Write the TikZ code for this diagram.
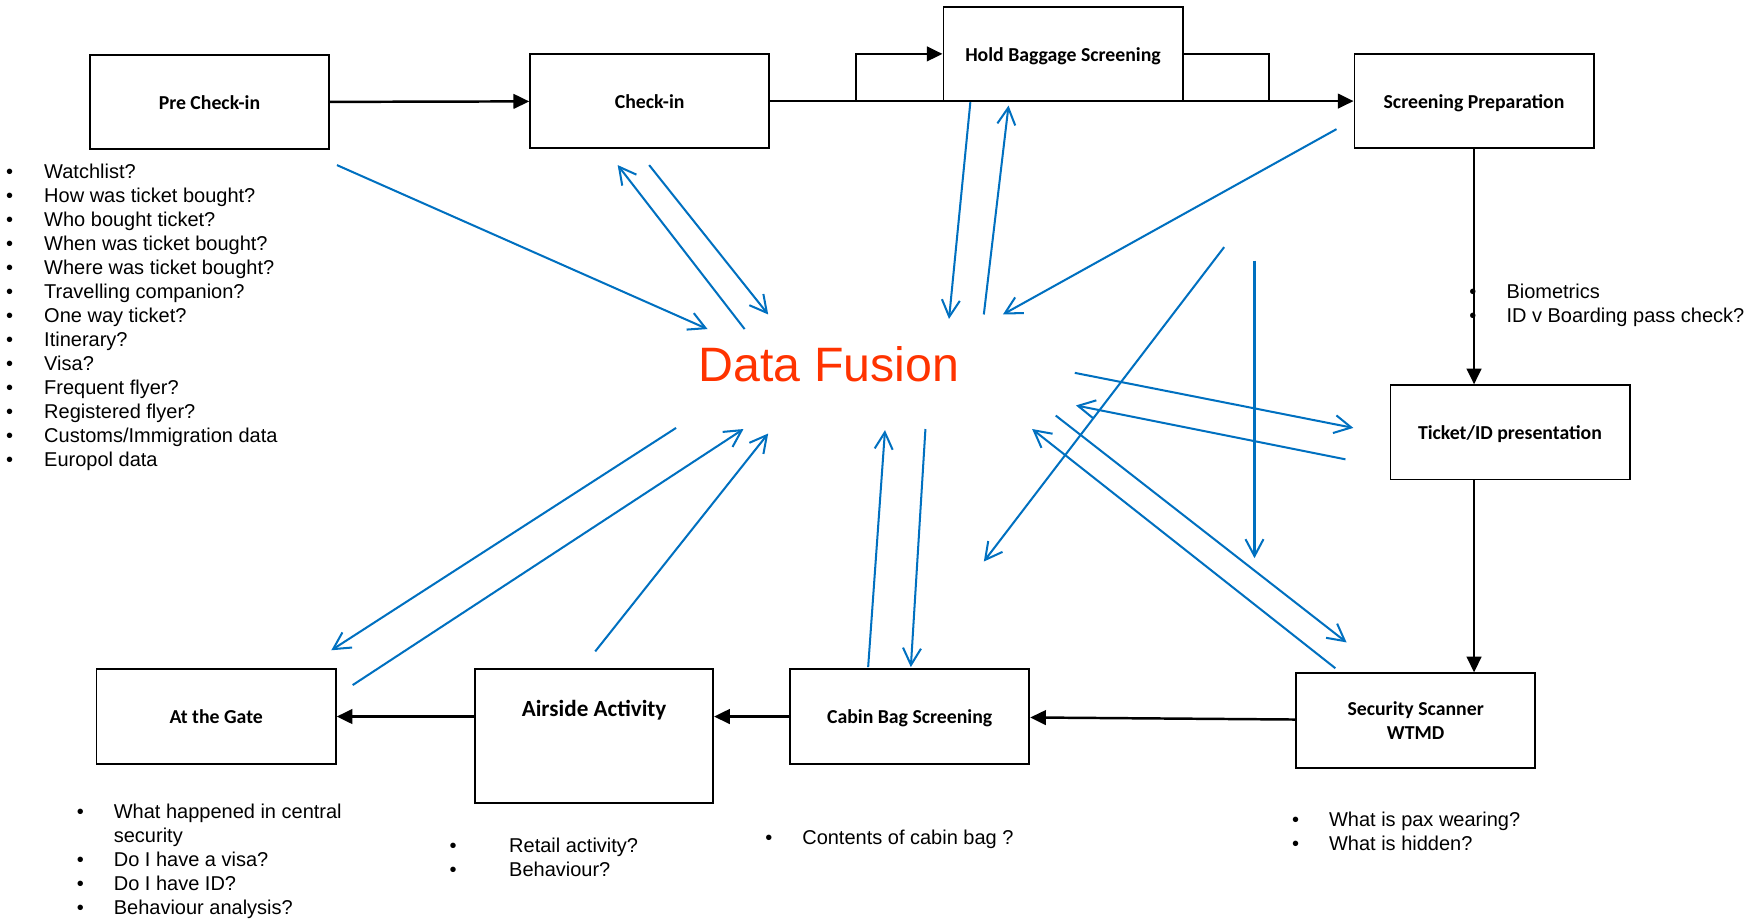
\documentclass[tikz,border=0pt]{standalone}
\usepackage{fontspec}
\setmainfont{Liberation Sans}
\newfontfamily\boxfont{Carlito}
\usetikzlibrary{arrows.meta,calc}
\definecolor{fusionred}{RGB}{255,51,0}
\definecolor{linkblue}{RGB}{0,112,192}
\newcommand{\bul}[1][16.5pt]{\makebox[#1][l]{\textbullet}}

\begin{document}
\begin{tikzpicture}
  [x=0.5pt,y=-0.5pt,
   boxN/.style={draw,line width=0.8pt,minimum width=106.5pt,minimum height=42pt,
                inner sep=1pt,align=center,
                font=\boxfont\bfseries\fontsize{8.8}{10.5}\selectfont},
   oneN/.style={boxN,text height=6.6pt,text depth=0pt},
   listN/.style={anchor=north west,inner sep=0pt,align=left,
                 font=\fontsize{8.9}{10.7}\selectfont},
   flow/.style={line width=1.1pt,-{Triangle[length=7pt,width=6.5pt]}},
   data/.style={linkblue,line width=0.9pt,-{Straight Barb[length=7.5pt,width=8pt]}}]

  \useasboundingbox (0,0) rectangle (1568,819);

  % process boxes
  \node at (186.5,91)   [oneN] (pre)     {Pre Check-in};
  \node at (578.5,90)   [oneN] (checkin) {Check-in};
  \node at (946.5,48)   [oneN] (hold)    {Hold Baggage Screening};
  \node at (1312.5,90)  [oneN] (prep)    {Screening Preparation};
  \node at (1344.5,385) [oneN] (ticket)  {Ticket/ID presentation};
  \node at (1260.5,641.5) [boxN] (scanner) {Security Scanner\\WTMD};
  \node at (810,638)    [oneN] (cabin)   {Cabin Bag Screening};
  \node at (529,655.5)  [boxN,minimum width=106pt,minimum height=59.5pt,
                         text height=7.5pt,text depth=25.2pt,
                         font=\boxfont\bfseries\fontsize{10.3}{12}\selectfont] (airside) {Airside Activity};
  \node at (192.5,638)  [oneN] (gate)    {At the Gate};

  \node at (738,324) [text=fusionred,font=\fontsize{21.5}{24}\selectfont] (fusion) {Data Fusion};

  % passenger flow
  \coordinate (hbsIn)  at (762,90);
  \coordinate (hbsOut) at (1130,90);
  \draw [flow] (pre) -- (checkin);
  \draw [flow] (checkin) -- (prep);
  \draw [flow] (hbsIn) |- (hold.west);
  \draw [line width=1.1pt] (hold.east) -| (hbsOut);
  \draw [flow] (prep.south) -- (prep.south |- ticket.north);
  \draw [flow] (ticket.south -| prep.south) -- (scanner.north -| prep.south);
  \draw [flow] (scanner) -- (cabin);
  \draw [flow] (cabin) -- (cabin.west -| airside.east);
  \draw [flow] (gate.east -| airside.west) -- (gate);

  % data links to and from the fusion centre
  \coordinate (preA)  at (300,147);  \coordinate (preB)  at (630,293);
  \coordinate (chkA)  at (663,293);  \coordinate (chkB)  at (550,147);
  \coordinate (chkC)  at (578,147);  \coordinate (chkD)  at (684,280);
  \coordinate (hbsA)  at (864,91);   \coordinate (hbsB)  at (845,284);
  \coordinate (hbsC)  at (876,280);  \coordinate (hbsD)  at (898,94);
  \coordinate (prepA) at (1190,115); \coordinate (prepB) at (893,280);
  \coordinate (tktA)  at (957,332);  \coordinate (tktB)  at (1205,381);
  \coordinate (tktC)  at (1198,409); \coordinate (tktD)  at (958,361);
  \coordinate (midA)  at (1090,220); \coordinate (midB)  at (876,500);
  \coordinate (midC)  at (1117,232); \coordinate (midD)  at (1117,497);
  \coordinate (scnA)  at (940,370);  \coordinate (scnB)  at (1199,572);
  \coordinate (scnC)  at (1189,595); \coordinate (scnD)  at (919,382);
  \coordinate (cabA)  at (773,594);  \coordinate (cabB)  at (788,383);
  \coordinate (cabC)  at (824,382);  \coordinate (cabD)  at (811,594);
  \coordinate (airA)  at (530,580);  \coordinate (airB)  at (684,386);
  \coordinate (gteA)  at (602,381);  \coordinate (gteB)  at (295,579);
  \coordinate (gteC)  at (314,610);  \coordinate (gteD)  at (662,382);

  \foreach \from/\to in {preA/preB,chkA/chkB,chkC/chkD,hbsA/hbsB,hbsC/hbsD,
                         prepA/prepB,tktA/tktB,tktC/tktD,midA/midB,midC/midD,
                         scnA/scnB,scnC/scnD,cabA/cabB,cabC/cabD,airA/airB,
                         gteA/gteB,gteC/gteD}
    \draw [data] (\from) -- (\to);

  % questions at each stage
  \node at (5,145.5) [listN] (preQ)
    {\bul[17pt]Watchlist?\\ \bul[17pt]How was ticket bought?\\ \bul[17pt]Who bought ticket?\\
     \bul[17pt]When was ticket bought?\\ \bul[17pt]Where was ticket bought?\\
     \bul[17pt]Travelling companion?\\ \bul[17pt]One way ticket?\\ \bul[17pt]Itinerary?\\
     \bul[17pt]Visa?\\ \bul[17pt]Frequent flyer?\\ \bul[17pt]Registered flyer?\\
     \bul[17pt]Customs/Immigration data\\ \bul[17pt]Europol data};
  \node at (1308,252.5) [listN] (prepQ)
    {\bul Biometrics\\ \bul ID v Boarding pass check?};
  \node at (68,715.5) [listN] (gateQ)
    {\bul What happened in central\\ \hspace*{16.5pt}security\\ \bul Do I have a visa?\\
     \bul Do I have ID?\\ \bul Behaviour analysis?};
  \node at (400,745.5) [listN] (airsideQ)
    {\bul[26.5pt]Retail activity?\\ \bul[26.5pt]Behaviour?};
  \node at (681,738.5) [listN] (cabinQ) {\bul Contents of cabin bag ?};
  \node at (1150,722.5) [listN] (scannerQ)
    {\bul What is pax wearing?\\ \bul What is hidden?};
\end{tikzpicture}
\end{document}
